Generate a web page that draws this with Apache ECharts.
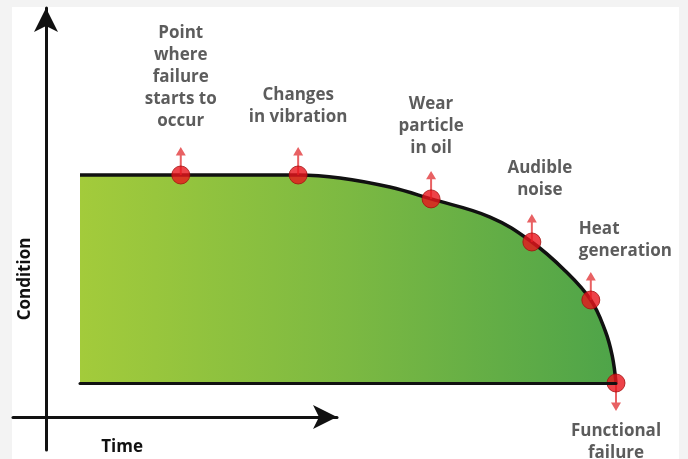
<!DOCTYPE html>
<html>
<head>
<meta charset="utf-8">
<title>Condition over time</title>
<script src="https://cdn.jsdelivr.net/npm/echarts@6/dist/echarts.min.js"></script>
<style>
  html, body { margin: 0; padding: 0; background: #f3f3f3; }
  #chart { width: 688px; height: 459px; }
</style>
</head>
<body>
<div id="chart"></div>
<script>
// condition curve (time 0..100, condition 0..100)
var curveTime = [0, 18.8, 40.7, 48.5, 57.8, 65.5, 76.5, 84.3, 90.5, 95.3, 98, 99.3, 100];
var curveCondition = [100, 100, 100, 98.6, 94.2, 88.5, 79.8, 67.8, 54, 39.9, 25, 13, 0];

// events marked on the curve
var eventNames = [
  "Point\nwhere\nfailure\nstarts to\noccur",
  "Changes\nin vibration",
  "Wear\nparticle\nin oil",
  "Audible\nnoise",
  "Heat\ngeneration",
  "Functional\nfailure"
];
var eventTime = [18.8, 40.7, 65.5, 84.3, 95.3, 100];
var eventCondition = [100, 100, 88.5, 67.8, 39.9, 0];

var axisTitles = ["Time", "Condition"];

var chart = echarts.init(document.getElementById("chart"));

var curveData = curveTime.map(function (t, i) {
  return [t, curveCondition[i]];
});
var lastIdx = eventTime.length - 1;

var dotData = eventTime.map(function (t, i) {
  var item = { value: [t, eventCondition[i]] };
  if (i === lastIdx) {
    item.label = { position: "bottom", distance: 28 };
  } else if (i === 4) {
    item.label = { align: "left", offset: [-12, 5] };
  } else if (i === 3) {
    item.label = { offset: [8, 2] };
  } else if (i === 2) {
    item.label = { offset: [0, 3] };
  } else if (i === 1) {
    item.label = { offset: [0, -4] };
  }
  return item;
});

var arrowData = eventTime.map(function (t, i) {
  var down = i === lastIdx;
  return {
    value: [t, eventCondition[i]],
    symbolRotate: down ? 180 : 0,
    symbolOffset: [0, down ? 14 : -14]
  };
});

var labelFont = {
  fontFamily: "Open Sans",
  fontWeight: "bold",
  fontSize: 17,
  lineHeight: 22,
  color: "#333333"
};

var option = {
  backgroundColor: "#f3f3f3",
  animation: false,
  graphic: [
    {
      type: "rect",
      z: -100,
      shape: { x: 12, y: 7, width: 667, height: 452 },
      style: { fill: "#ffffff" }
    },
    {
      type: "text",
      x: 25,
      y: 279,
      rotation: Math.PI / 2,
      style: {
        text: axisTitles[1],
        fontFamily: "Open Sans",
        fontWeight: "bold",
        fontSize: 17,
        fill: "#111",
        align: "center",
        verticalAlign: "middle"
      }
    }
  ],
  grid: [
    // the two arrow axes
    { left: 13, right: 351, top: 8, bottom: 9, outerBoundsMode: "none" },
    // the condition curve
    { left: 80, right: 72, top: 175, bottom: 76, outerBoundsMode: "none" }
  ],
  xAxis: [
    {
      gridIndex: 0,
      type: "value",
      min: -33,
      max: 291,
      name: axisTitles[0],
      nameLocation: "start",
      nameGap: -130,
      nameTextStyle: {
        fontFamily: "Open Sans",
        fontWeight: "bold",
        fontSize: 17,
        color: "#111",
        align: "right",
        verticalAlign: "top",
        padding: [22, 0, 0, 0]
      },
      axisLine: {
        show: true,
        onZero: true,
        symbol: ["none", "arrow"],
        symbolSize: [18, 24],
        lineStyle: { color: "#111", width: 3 }
      },
      axisTick: { show: false },
      axisLabel: { show: false },
      splitLine: { show: false }
    },
    {
      gridIndex: 1,
      type: "value",
      min: 0,
      max: 100,
      z: 5,
      axisLine: { show: true, lineStyle: { color: "#111", width: 3 } },
      axisTick: { show: false },
      axisLabel: { show: false },
      splitLine: { show: false }
    }
  ],
  yAxis: [
    {
      gridIndex: 0,
      type: "value",
      min: -33,
      max: 409,
      axisLine: {
        show: true,
        onZero: true,
        symbol: ["none", "arrow"],
        symbolSize: [18, 24],
        lineStyle: { color: "#111", width: 3 }
      },
      axisTick: { show: false },
      axisLabel: { show: false },
      splitLine: { show: false }
    },
    {
      gridIndex: 1,
      type: "value",
      min: 0,
      max: 100,
      show: false
    }
  ],
  series: [
    {
      name: "Condition",
      type: "line",
      xAxisIndex: 1,
      yAxisIndex: 1,
      data: curveData,
      smooth: 0.4,
      showSymbol: false,
      clip: false,
      z: 2,
      lineStyle: { color: "#111", width: 3.5 },
      areaStyle: {
        opacity: 1,
        color: new echarts.graphic.LinearGradient(0, 0, 1, 0, [
          { offset: 0, color: "#a3cb3b" },
          { offset: 0.5, color: "#7cb942" },
          { offset: 1, color: "#4ea449" }
        ])
      }
    },
    {
      name: "arrows",
      type: "scatter",
      xAxisIndex: 1,
      yAxisIndex: 1,
      data: arrowData,
      symbol: "path://M5,0L10,9L6,9L6,30L4,30L4,9L0,9Z",
      symbolSize: [10, 28],
      clip: false,
      z: 3,
      itemStyle: { color: "#e2393c" }
    },
    {
      name: "events",
      type: "scatter",
      xAxisIndex: 1,
      yAxisIndex: 1,
      data: dotData,
      symbol: "circle",
      symbolSize: 18,
      clip: false,
      z: 4,
      itemStyle: { color: "#e8141c", borderColor: "#a50f0f", borderWidth: 1 },
      label: Object.assign({
        show: true,
        position: "top",
        distance: 33,
        formatter: function (p) {
          return eventNames[p.dataIndex];
        }
      }, labelFont)
    }
  ]
};

chart.setOption(option);
window.addEventListener("resize", function () {
  chart.resize();
});
</script>
</body>
</html>
